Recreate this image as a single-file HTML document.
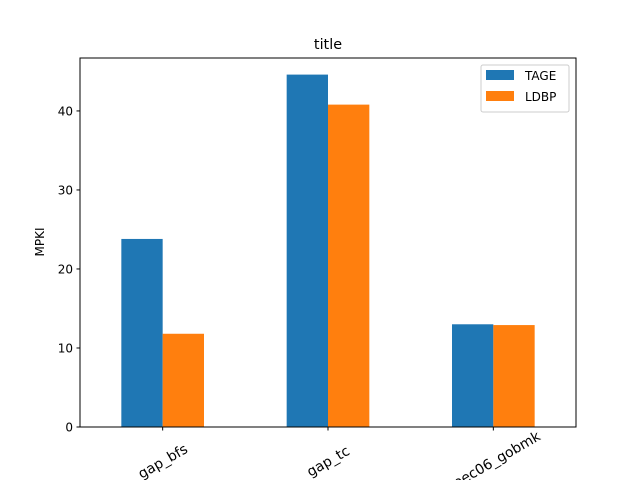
<!DOCTYPE html>
<html><head><meta charset="utf-8"><style>body{margin:0;background:#fff}svg{display:block;font-family:"DejaVu Sans","Liberation Sans",sans-serif}</style></head>
<body>
<svg id="chart" width="640" height="480" viewBox="0 0 640 480">
<rect width="640" height="480" fill="#fff"/>
<text x="328" y="49" font-size="14.4" text-anchor="middle">title</text>
<text transform="translate(44,242) rotate(-90)" font-size="12" text-anchor="middle">MPKI</text>
<g id="marks"></g>
<rect x="80" y="58" width="496" height="369" fill="none" stroke="#000" stroke-width="1"/>
<g>
<rect x="481" y="65" width="88" height="47" fill="#fff" stroke="#ccc" rx="2"/>
<rect x="486" y="70" width="28" height="10" fill="#1f77b4"/>
<text x="525" y="80" font-size="12">TAGE</text>
<rect x="486" y="91" width="28" height="10" fill="#ff7f0e"/>
<text x="525" y="101" font-size="12">LDBP</text>
</g>
</svg>
<script>
const categories = ["gap_bfs", "gap_tc", "spec06_gobmk"];
const tageValues = [23.8, 44.6, 13.0];
const ldbpValues = [11.8, 40.8, 12.9];
const yTicks = [0, 10, 20, 30, 40];
const NS = "http://www.w3.org/2000/svg";
const L = 80, R = 576, T = 58, B = 427;
const yMax = 46.7;
const xs = i => L + (i + 0.5) * (R - L) / 3;
const ys = v => B - v * (B - T) / yMax;
const bw = 0.25 * (R - L) / 3;
const g = document.getElementById("marks");
function mk(tag, attrs) { const e = document.createElementNS(NS, tag); for (const k in attrs) e.setAttribute(k, attrs[k]); g.appendChild(e); return e; }
categories.forEach((c, i) => {
  const cx = xs(i);
  let r = mk("rect", {x: cx - bw, y: ys(tageValues[i]), width: bw, height: B - ys(tageValues[i]), fill: "#1f77b4"});
  
  
  r = mk("rect", {x: cx, y: ys(ldbpValues[i]), width: bw, height: B - ys(ldbpValues[i]), fill: "#ff7f0e"});
  
  
  const t = mk("line", {x1: cx, x2: cx, y1: B, y2: B + 3.5, stroke: "#000"});
  
  
  const lb = mk("text", {x: cx, y: 466, "font-size": 14, "text-anchor": "middle", transform: `rotate(-30 ${cx} 461)`});
  lb.textContent = c;
  
  
});
yTicks.forEach(v => {
  const y = ys(v);
  const t = mk("line", {x1: L - 3.5, x2: L, y1: y, y2: y, stroke: "#000"});
  
  
  const lb = mk("text", {x: L - 7, y: y + 4.5, "font-size": 12, "text-anchor": "end"});
  lb.textContent = v;
  
  
});
</script>
</body></html>
